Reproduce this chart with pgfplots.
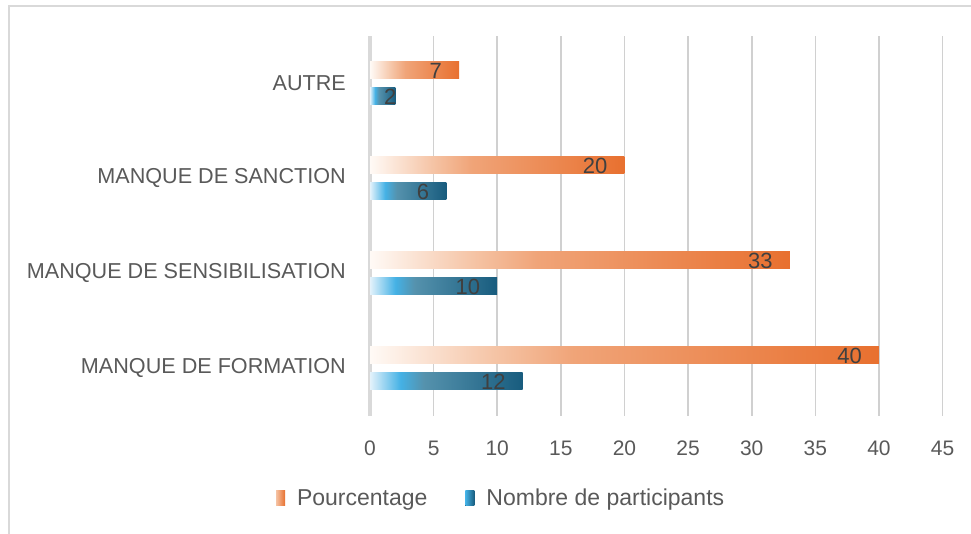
\documentclass[border=0pt]{standalone}
\usepackage{pgfplots}
\pgfplotsset{compat=1.18}
\usepackage{fontspec}
\setmainfont{Liberation Sans}
\definecolor{framec}{HTML}{D9D9D9}
\definecolor{gridc}{HTML}{D0D0D0}
\definecolor{axc}{HTML}{D9D9D9}
\definecolor{tickc}{HTML}{595959}
\definecolor{labc}{HTML}{404040}
\definecolor{or0}{HTML}{FFFAF6}
\definecolor{or1}{HTML}{F5C3A4}
\definecolor{or2}{HTML}{F0A478}
\definecolor{or3}{HTML}{E8702F}
\definecolor{bl0}{HTML}{E3F2FB}
\definecolor{bl1}{HTML}{44B1E5}
\definecolor{bl2}{HTML}{5592AD}
\definecolor{bl3}{HTML}{185C7E}
\pgfdeclarehorizontalshading{orgrad}{100bp}{color(0bp)=(or0); color(25bp)=(or0); color(37.5bp)=(or1); color(45bp)=(or2); color(75bp)=(or3); color(100bp)=(or3)}
\pgfdeclarehorizontalshading{blgrad}{100bp}{color(0bp)=(bl0); color(25bp)=(bl0); color(35bp)=(bl1); color(42.5bp)=(bl2); color(75bp)=(bl3); color(100bp)=(bl3)}
\pgfdeclarehorizontalshading{orleg}{100bp}{color(0bp)=(or1); color(25bp)=(or1); color(75bp)=(or3); color(100bp)=(or3)}
\pgfdeclarehorizontalshading{blleg}{100bp}{color(0bp)=(bl1); color(25bp)=(bl1); color(75bp)=(bl3); color(100bp)=(bl3)}
\pgfplotsset{
  orbar/.style={xbar, bar width=17pt, bar shift=13pt, draw=none, shading=orgrad, shading angle=0,
    visualization depends on={rawx \as \xv},
    nodes near coords, every node near coord/.append style={xshift={\xv<3 ? 1 : -17}, yshift=13pt},
    legend image code/.code={\fill[shading=orleg, shading angle=0] (0pt,-7.5pt) rectangle (9pt,7.5pt); \path (19pt,0pt);}},
  blbar/.style={xbar, bar width=17pt, bar shift=-13pt, draw=none, shading=blgrad, shading angle=0,
    visualization depends on={rawx \as \xv},
    nodes near coords, every node near coord/.append style={xshift={\xv<3 ? 1 : -17}, yshift=-13pt},
    legend image code/.code={\fill[shading=blleg, shading angle=0] (0pt,-7.5pt) rectangle (9pt,7.5pt); \path (19pt,0pt);}},
}
\begin{document}
\begin{tikzpicture}[x=1pt,y=1pt]
\path[use as bounding box] (0,0) rectangle (971,534);
\draw[color=framec, line width=2pt] (9,0) -- (9,528) -- (971,528);
\begin{axis}[
  at={(370pt,118pt)}, anchor=south west,
  scale only axis, width=572.6pt, height=380pt,
  xmin=0, xmax=45, ymin=-0.5, ymax=3.5,
  /pgf/number format/assume math mode=true,
  xtick={0,5,...,45},
  ytick={0,1,2,3},
  yticklabels={MANQUE DE FORMATION, MANQUE DE SENSIBILISATION, MANQUE DE SANCTION, AUTRE},
  xmajorgrids, grid style={color=gridc, line width=1.6pt},
  axis line style={draw=none},
  major tick length=0pt,
  xticklabel style={font=\fontsize{21}{24}\selectfont, text=tickc, anchor=center, yshift=-32pt},
  yticklabel style={font=\fontsize{21.6}{24}\selectfont, text=tickc, anchor=east, inner sep=0pt, xshift=-24pt},
  clip=false,
  legend style={at={(0.229,-0.216)}, anchor=center, legend columns=2, draw=none, fill=none,
    font=\fontsize{23}{26}\selectfont, text=tickc,
    /tikz/every even column/.append style={column sep=36pt}},
  every node near coord/.append style={font=\fontsize{22}{24}\selectfont, text=labc, inner sep=0pt, anchor=east},
]
\draw[color=axc, line width=4pt] (axis cs:0,-0.5) -- (axis cs:0,3.5);
% Pourcentage
\addplot[orbar] coordinates {(40,0)};
\addlegendentry{Pourcentage}
\addplot[blbar] coordinates {(12,0)};
\addlegendentry{Nombre de participants}
\addplot[orbar, forget plot] coordinates {(33,1)};
\addplot[orbar, forget plot] coordinates {(20,2)};
\addplot[orbar, forget plot] coordinates {(7,3)};
% Nombre de participants
\addplot[blbar, forget plot] coordinates {(10,1)};
\addplot[blbar, forget plot] coordinates {(6,2)};
\addplot[blbar, forget plot] coordinates {(2,3)};
\end{axis}
\end{tikzpicture}
\end{document}
